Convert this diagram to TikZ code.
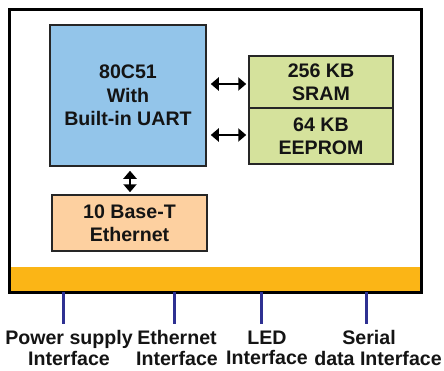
\documentclass[tikz,border=0pt]{standalone}
\usepackage{fontspec}
\setmainfont{Liberation Sans}
\usetikzlibrary{arrows.meta}
\definecolor{cpublue}{HTML}{93C5EA}
\definecolor{memgreen}{HTML}{D5E29C}
\definecolor{ethorange}{HTML}{FDD0A0}
\definecolor{strip}{HTML}{FBB516}
\definecolor{pinblue}{HTML}{2E3192}
\definecolor{txt}{HTML}{141414}
\tikzset{
  blk/.style={draw=black!85, line width=1.5pt, minimum width=#1, inner sep=0pt, align=center,
    text=txt, font=\bfseries\fontsize{19.6}{23.5}\selectfont},
  arr/.style={line width=2.2pt, {Triangle[length=8pt,width=13pt]}-{Triangle[length=8pt,width=13pt]}},
  pin/.style={draw=pinblue, line width=3pt},
  lbl/.style={anchor=north, inner sep=0pt, align=center, text=txt,
    font=\bfseries\fontsize{19.6}{20.5}\selectfont}
}
\begin{document}
\begin{tikzpicture}[x=1pt,y=-1pt]
\useasboundingbox (0,0) rectangle (444,370);
% board
\node[draw=none, minimum width=411pt, minimum height=282pt, inner sep=0pt] (board) at (215.5,151) {};
\fill[strip] (board.south west) ++(0,-25) rectangle (board.south east);
\draw[line width=3pt] (board.south west) rectangle (board.north east);
% blocks
\node[blk=156pt, minimum height=141pt, fill=cpublue] (cpu) at (128,95.5) {80C51\\With\\Built-in UART};
\node[blk=144pt, minimum height=52pt, fill=memgreen] (sram) at (321,82) {256 KB\\SRAM};
\node[blk=144pt, minimum height=56pt, fill=memgreen] (eeprom) at (321,136) {64 KB\\EEPROM};
\node[blk=155pt, minimum height=56pt, fill=ethorange] (eth) at (129.5,223) {10 Base-T\\Ethernet};
% arrows
\draw[arr, shorten <=4pt, shorten >=2pt] ([yshift=-2pt]sram.west -| cpu.east) -- ([yshift=-2pt]sram.west);
\draw[arr, shorten <=4pt, shorten >=2pt] ([yshift=1pt]eeprom.west -| cpu.east) -- ([yshift=1pt]eeprom.west);
\draw[arr, shorten <=4pt, shorten >=2pt] ([xshift=2pt]cpu.south) -- ([xshift=2pt]cpu.south |- eth.north);
% pins
\coordinate (p1) at (63,324);
\coordinate (p2) at (174,324);
\coordinate (p3) at (261,324);
\coordinate (p4) at (366,324);
\foreach \p in {p1,p2,p3,p4} \draw[pin] (\p |- board.south) -- (\p);
% labels
\node[lbl] (l1) at (69,330.5) {Power supply\\Interface};
\node[lbl] (l2) at (177,330.5) {Ethernet\\Interface};
\node[lbl] (l3) at (267,330.5) {LED\\Interface};
\node[lbl] (l4) at (378,330.5) {Serial\hspace*{18pt}\\data Interface};
\end{tikzpicture}
\end{document}
